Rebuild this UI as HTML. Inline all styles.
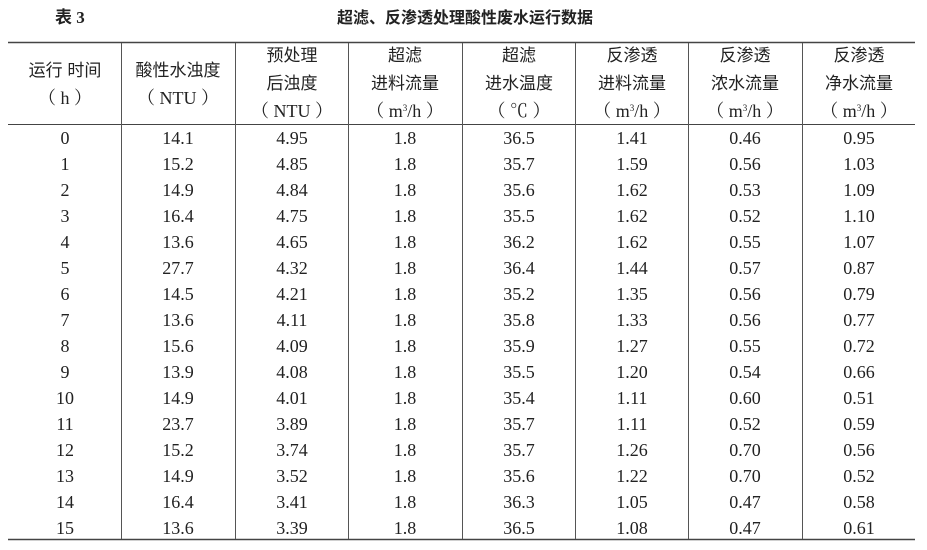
<!DOCTYPE html>
<html><head><meta charset="utf-8"><style>
html,body{margin:0;padding:0;background:#fff;}
svg{display:block;}
.c{font-family:"Liberation Sans","Noto Sans CJK SC",sans-serif;font-size:17px;fill:#222;}
.n{font-family:"Liberation Serif","Noto Serif CJK SC",serif;font-size:18px;fill:#222;}
</style></head><body>
<svg width="927" height="550" xmlns="http://www.w3.org/2000/svg">
<text x="55" y="23" style="font-family:'Liberation Serif','Noto Sans CJK SC',sans-serif;font-size:17px;font-weight:bold;fill:#222">表 3</text>
<text x="465" y="23" text-anchor="middle" style="font-family:'Liberation Sans','Noto Sans CJK SC',sans-serif;font-size:16px;font-weight:bold;fill:#222">超滤、反渗透处理酸性废水运行数据</text>
<line x1="8" y1="42.5" x2="915" y2="42.5" stroke="#444" stroke-width="1.6"/>
<line x1="8" y1="124.5" x2="915" y2="124.5" stroke="#444" stroke-width="1"/>
<line x1="8" y1="539.5" x2="915" y2="539.5" stroke="#444" stroke-width="1.6"/>
<g stroke="#555" stroke-width="1">
<line x1="121.5" y1="43" x2="121.5" y2="539"/>
<line x1="235.5" y1="43" x2="235.5" y2="539"/>
<line x1="348.5" y1="43" x2="348.5" y2="539"/>
<line x1="462.5" y1="43" x2="462.5" y2="539"/>
<line x1="575.5" y1="43" x2="575.5" y2="539"/>
<line x1="688.5" y1="43" x2="688.5" y2="539"/>
<line x1="802.5" y1="43" x2="802.5" y2="539"/>
</g>
<g text-anchor="middle">
<text class="c" x="65" y="76">运行 时间</text><text class="n" x="65" y="104">（ h ）</text>
<text class="c" x="178" y="76">酸性水浊度</text><text class="n" x="178" y="104">（ NTU ）</text>
<text class="c" x="292" y="61">预处理</text><text class="c" x="292" y="89">后浊度</text><text class="n" x="292" y="117">（ NTU ）</text>
<text class="c" x="405" y="61">超滤</text><text class="c" x="405" y="89">进料流量</text><text class="n" x="405" y="117">（ m<tspan font-size="9" dy="-6">3</tspan><tspan dy="6">/h ）</tspan></text>
<text class="c" x="519" y="61">超滤</text><text class="c" x="519" y="89">进水温度</text><text class="n" x="519" y="117">（ ℃ ）</text>
<text class="c" x="632" y="61">反渗透</text><text class="c" x="632" y="89">进料流量</text><text class="n" x="632" y="117">（ m<tspan font-size="9" dy="-6">3</tspan><tspan dy="6">/h ）</tspan></text>
<text class="c" x="745" y="61">反渗透</text><text class="c" x="745" y="89">浓水流量</text><text class="n" x="745" y="117">（ m<tspan font-size="9" dy="-6">3</tspan><tspan dy="6">/h ）</tspan></text>
<text class="c" x="859" y="61">反渗透</text><text class="c" x="859" y="89">净水流量</text><text class="n" x="859" y="117">（ m<tspan font-size="9" dy="-6">3</tspan><tspan dy="6">/h ）</tspan></text>
</g>
<g class="n" text-anchor="middle">
<g transform="translate(0,144)"><text x="65">0</text><text x="178">14.1</text><text x="292">4.95</text><text x="405">1.8</text><text x="519">36.5</text><text x="632">1.41</text><text x="745">0.46</text><text x="859">0.95</text></g>
<g transform="translate(0,170)"><text x="65">1</text><text x="178">15.2</text><text x="292">4.85</text><text x="405">1.8</text><text x="519">35.7</text><text x="632">1.59</text><text x="745">0.56</text><text x="859">1.03</text></g>
<g transform="translate(0,196)"><text x="65">2</text><text x="178">14.9</text><text x="292">4.84</text><text x="405">1.8</text><text x="519">35.6</text><text x="632">1.62</text><text x="745">0.53</text><text x="859">1.09</text></g>
<g transform="translate(0,222)"><text x="65">3</text><text x="178">16.4</text><text x="292">4.75</text><text x="405">1.8</text><text x="519">35.5</text><text x="632">1.62</text><text x="745">0.52</text><text x="859">1.10</text></g>
<g transform="translate(0,248)"><text x="65">4</text><text x="178">13.6</text><text x="292">4.65</text><text x="405">1.8</text><text x="519">36.2</text><text x="632">1.62</text><text x="745">0.55</text><text x="859">1.07</text></g>
<g transform="translate(0,274)"><text x="65">5</text><text x="178">27.7</text><text x="292">4.32</text><text x="405">1.8</text><text x="519">36.4</text><text x="632">1.44</text><text x="745">0.57</text><text x="859">0.87</text></g>
<g transform="translate(0,300)"><text x="65">6</text><text x="178">14.5</text><text x="292">4.21</text><text x="405">1.8</text><text x="519">35.2</text><text x="632">1.35</text><text x="745">0.56</text><text x="859">0.79</text></g>
<g transform="translate(0,326)"><text x="65">7</text><text x="178">13.6</text><text x="292">4.11</text><text x="405">1.8</text><text x="519">35.8</text><text x="632">1.33</text><text x="745">0.56</text><text x="859">0.77</text></g>
<g transform="translate(0,352)"><text x="65">8</text><text x="178">15.6</text><text x="292">4.09</text><text x="405">1.8</text><text x="519">35.9</text><text x="632">1.27</text><text x="745">0.55</text><text x="859">0.72</text></g>
<g transform="translate(0,378)"><text x="65">9</text><text x="178">13.9</text><text x="292">4.08</text><text x="405">1.8</text><text x="519">35.5</text><text x="632">1.20</text><text x="745">0.54</text><text x="859">0.66</text></g>
<g transform="translate(0,404)"><text x="65">10</text><text x="178">14.9</text><text x="292">4.01</text><text x="405">1.8</text><text x="519">35.4</text><text x="632">1.11</text><text x="745">0.60</text><text x="859">0.51</text></g>
<g transform="translate(0,430)"><text x="65">11</text><text x="178">23.7</text><text x="292">3.89</text><text x="405">1.8</text><text x="519">35.7</text><text x="632">1.11</text><text x="745">0.52</text><text x="859">0.59</text></g>
<g transform="translate(0,456)"><text x="65">12</text><text x="178">15.2</text><text x="292">3.74</text><text x="405">1.8</text><text x="519">35.7</text><text x="632">1.26</text><text x="745">0.70</text><text x="859">0.56</text></g>
<g transform="translate(0,482)"><text x="65">13</text><text x="178">14.9</text><text x="292">3.52</text><text x="405">1.8</text><text x="519">35.6</text><text x="632">1.22</text><text x="745">0.70</text><text x="859">0.52</text></g>
<g transform="translate(0,508)"><text x="65">14</text><text x="178">16.4</text><text x="292">3.41</text><text x="405">1.8</text><text x="519">36.3</text><text x="632">1.05</text><text x="745">0.47</text><text x="859">0.58</text></g>
<g transform="translate(0,534)"><text x="65">15</text><text x="178">13.6</text><text x="292">3.39</text><text x="405">1.8</text><text x="519">36.5</text><text x="632">1.08</text><text x="745">0.47</text><text x="859">0.61</text></g>
</g>
</svg>
</body></html>
